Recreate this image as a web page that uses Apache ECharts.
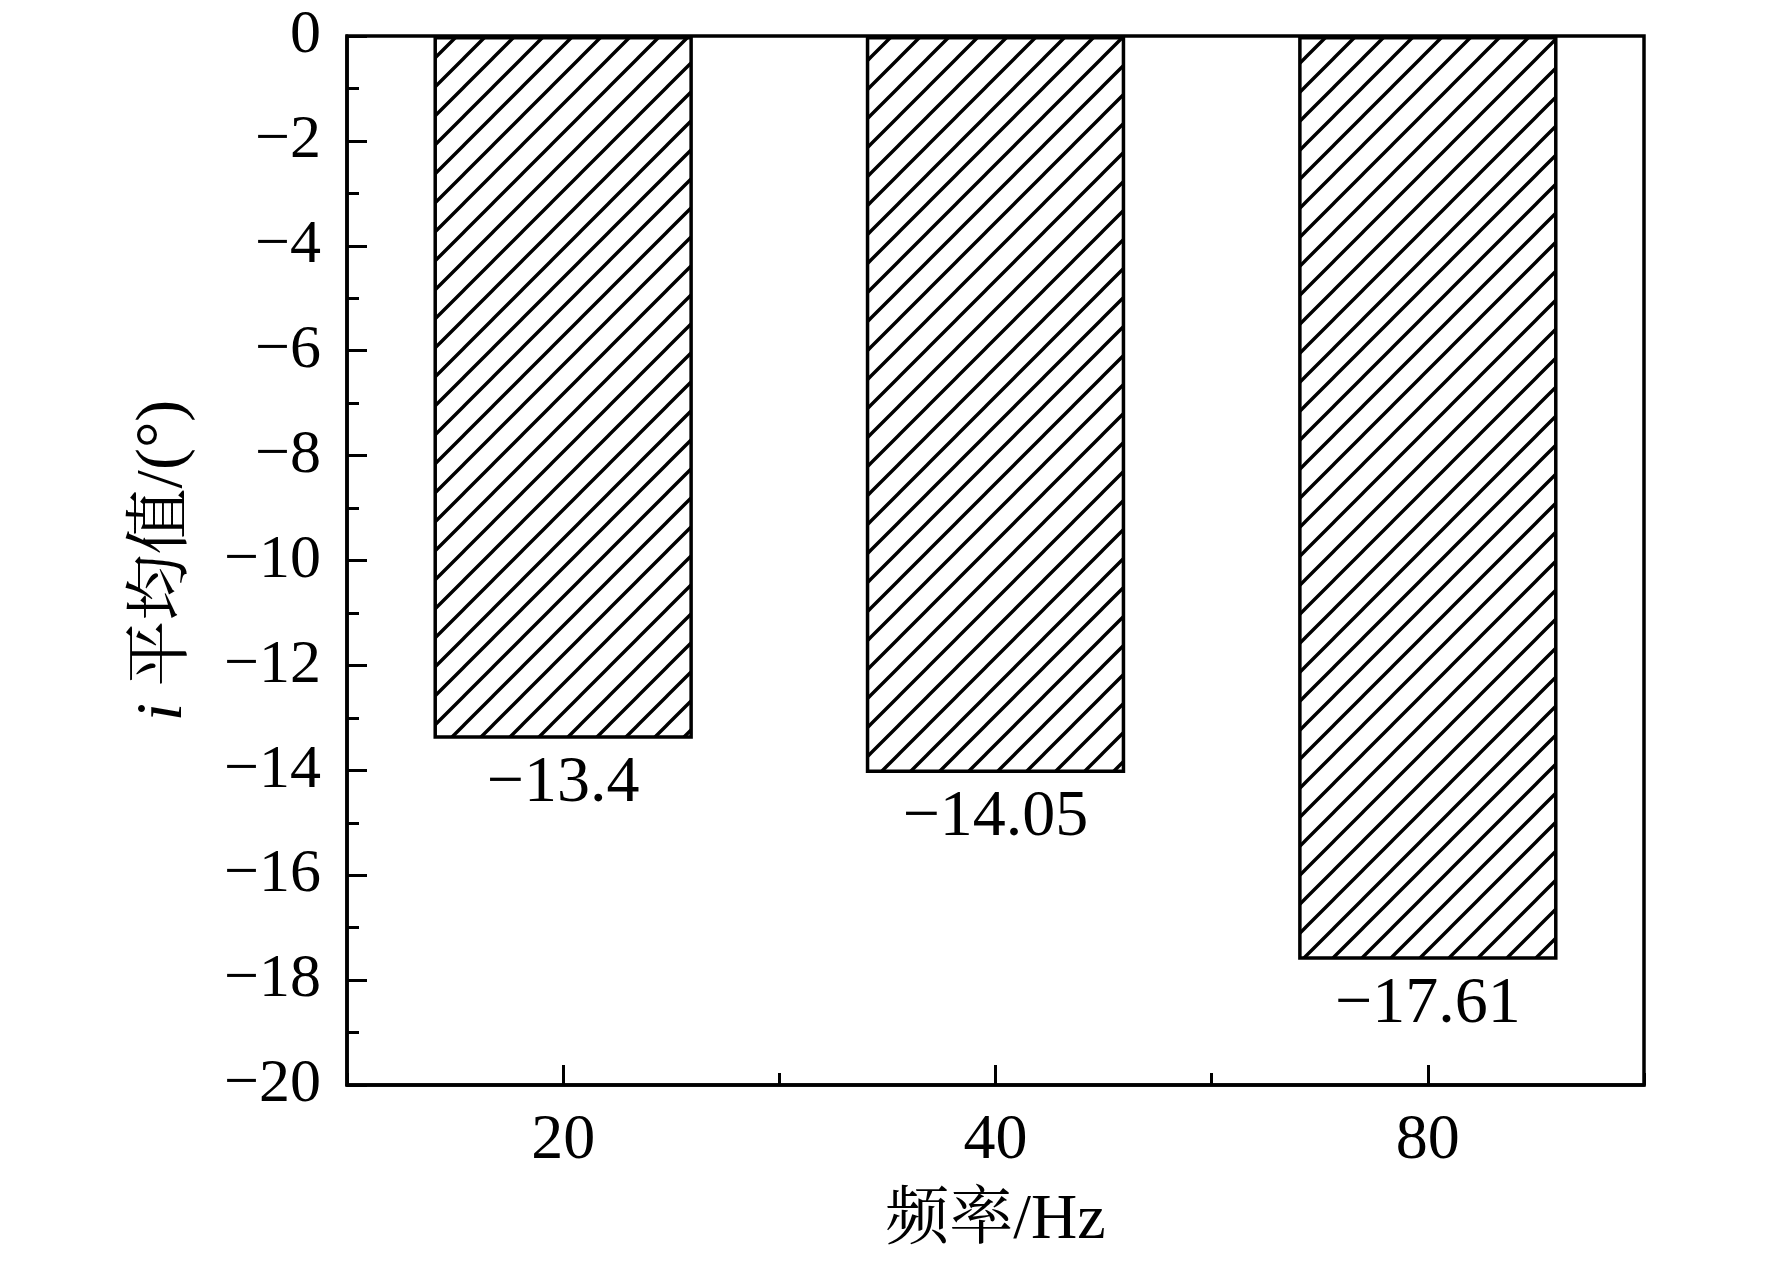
<!DOCTYPE html>
<html>
<head>
<meta charset="utf-8">
<script src="https://cdn.jsdelivr.net/npm/echarts@6/dist/echarts.min.js"></script>
<style>
html,body{margin:0;padding:0;background:#fff;}
#chart{width:1772px;height:1263px;}
</style>
</head>
<body>
<div id="chart"></div>
<script>
const categories = ['20', '40', '80'];
const meanValues = [-13.4, -14.05, -17.61];
const yTicks = [0, -2, -4, -6, -8, -10, -12, -14, -16, -18, -20];

const SERIF = '"Liberation Serif", "Times New Roman", "Noto Serif CJK SC", "Noto Sans CJK SC", serif';
const minus = v => String(v).replace('-', '\u2212');

// hatch pattern "/"
const s = 29;
const cv = document.createElement('canvas');
cv.width = s; cv.height = s;
const cx = cv.getContext('2d');
cx.fillStyle = '#fff';
cx.fillRect(0, 0, s, s);
cx.strokeStyle = '#000';
cx.lineWidth = 3.4;
cx.beginPath();
cx.moveTo(-2, s + 2); cx.lineTo(s + 2, -2);
cx.moveTo(-s - 2, s + 2); cx.lineTo(2, -2);
cx.moveTo(s - 2, s + 2); cx.lineTo(2 * s + 2, -2);
cx.stroke();

const chart = echarts.init(document.getElementById('chart'), null, {renderer: 'canvas'});
chart.setOption({
  backgroundColor: '#fff',
  animation: false,
  grid: {
    left: 347, top: 36, right: 128, bottom: 178,
    show: true, borderColor: '#000', borderWidth: 3.5, backgroundColor: 'transparent'
  },
  xAxis: [{
    type: 'category',
    data: categories,
    position: 'bottom',
    name: '频率/Hz',
    nameLocation: 'middle',
    nameGap: 104,
    nameTextStyle: {fontFamily: SERIF, fontSize: 64, color: '#000'},
    axisLine: {show: true, onZero: false, lineStyle: {color: '#000', width: 3.5}},
    axisTick: {show: true, inside: true, alignWithLabel: true, length: 20, lineStyle: {color: '#000', width: 3}},
    axisLabel: {fontFamily: SERIF, fontSize: 64, color: '#000', margin: 24},
    splitLine: {show: false}
  }, {
    type: 'category',
    data: categories,
    position: 'bottom',
    axisLine: {show: false, onZero: false},
    axisTick: {show: true, inside: true, length: 12, lineStyle: {color: '#000', width: 3}},
    axisLabel: {show: false},
    splitLine: {show: false}
  }],
  yAxis: {
    type: 'value',
    min: -20, max: 0, interval: 2,
    name: '{it|i} 平均值/(°)',
    nameLocation: 'middle',
    nameGap: 150,
    nameRotate: 90,
    nameTextStyle: {
      fontFamily: SERIF, fontSize: 66, color: '#000',
      rich: {it: {fontFamily: SERIF, fontStyle: 'italic', fontSize: 66, color: '#000'}}
    },
    axisLine: {show: true, lineStyle: {color: '#000', width: 3.5}},
    axisTick: {show: true, inside: true, length: 20, lineStyle: {color: '#000', width: 3}},
    minorTick: {show: true, splitNumber: 2, length: 12, lineStyle: {color: '#000', width: 3}},
    axisLabel: {
      fontFamily: SERIF, fontSize: 62, color: '#000', margin: 26,
      formatter: v => minus(v)
    },
    splitLine: {show: false}
  },
  series: [{
    type: 'bar',
    xAxisIndex: 0,
    data: meanValues,
    barWidth: '60%',
    itemStyle: {
      color: {image: cv, repeat: 'repeat'},
      borderColor: '#000',
      borderWidth: 3.5
    },
    label: {
      show: true,
      position: 'bottom',
      distance: 12,
      fontFamily: SERIF, fontSize: 66, color: '#000',
      formatter: p => minus(p.value)
    }
  }]
});
</script>
</body>
</html>
